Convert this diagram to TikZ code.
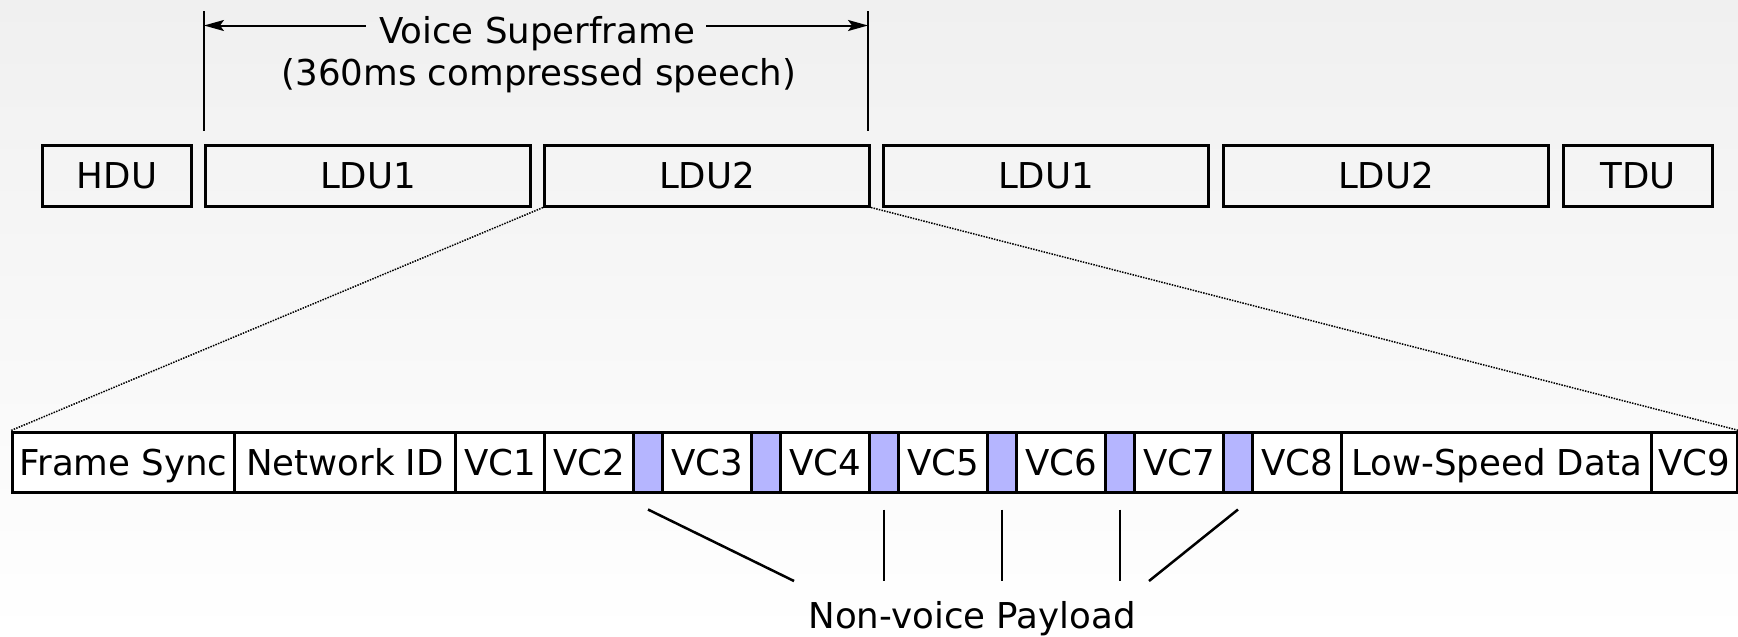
\documentclass[tikz,border=0pt]{standalone}
\usepackage{fontspec}
\setmainfont{DejaVu Sans}
\usetikzlibrary{arrows.meta}
\definecolor{nvfill}{RGB}{181,181,255}
\definecolor{bgtop}{RGB}{240,240,240}
\begin{document}
\begin{tikzpicture}[x=1pt,y=-1pt,
  lbl/.style={font=\fontsize{35.6}{42}\selectfont, text height=26pt, text depth=0pt, inner sep=0pt},
  unitbox/.style={lbl, draw, line width=3pt, minimum height=61pt, anchor=west},
  field/.style={lbl, draw, line width=3pt, fill=white, minimum height=60pt, anchor=west},
  nv/.style={field, fill=nvfill, minimum width=29pt},
  vc/.style={field, minimum width=89pt},
  zoomline/.style={line width=1.5pt, dash pattern=on 1.5pt off 1.2pt, black},
  tick/.style={line width=1.3pt},
  span/.style={line width=2pt, -{Stealth[length=20pt,width=11pt,inset=4pt]}},
  pointer/.style={line width=2.5pt}
]
% page and background
\useasboundingbox (0,0) rectangle (1738,637);
\shade[top color=bgtop, bottom color=white] (0,0) rectangle (1738,637);

% top row: data units of a voice transmission
\node[unitbox, minimum width=149pt] (hdu)  at (41,175.5)   {HDU};
\node[unitbox, minimum width=325pt] (ldua) at (204,175.5)  {LDU1};
\node[unitbox, minimum width=325pt] (ldub) at (543,175.5)  {LDU2};
\node[unitbox, minimum width=325pt] (lduc) at (882,175.5)  {LDU1};
\node[unitbox, minimum width=325pt] (ldud) at (1222,175.5) {LDU2};
\node[unitbox, minimum width=149pt] (tdu)  at (1562,175.5) {TDU};

% superframe span
\node[lbl] (vs)   at (537,30)   {Voice Superframe};
\node[lbl] (vsub) at (539,72.5) {(360ms compressed speech)};
\coordinate (tlTop) at (204,11);
\coordinate (tlBot) at (204,131);
\coordinate (trTop) at (868,11);
\coordinate (trBot) at (868,131);
\coordinate (arrL) at (204,25.5);
\coordinate (arrR) at (868,25.5);
\draw[tick] (tlTop) -- (tlBot);
\draw[tick] (trTop) -- (trBot);
\draw[span] ([xshift=-13pt]vs.west |- arrL) -- (arrL);
\draw[span] ([xshift=11pt]vs.east |- arrR) -- (arrR);

% bottom row: fields of LDU2
\node[field, minimum width=222pt] (fs)  at (11,462)   {Frame Sync};
\node[field, minimum width=221pt] (nid) at (233,462)  {Network ID};
\node[vc]  (vc1) at (454,462)  {VC1};
\node[vc]  (vc2) at (543,462)  {VC2};
\node[nv]  (nv1) at (632,462)  {};
\node[vc]  (vc3) at (661,462)  {VC3};
\node[nv]  (nv2) at (750,462)  {};
\node[vc]  (vc4) at (779,462)  {VC4};
\node[nv]  (nv3) at (868,462)  {};
\node[vc]  (vc5) at (897,462)  {VC5};
\node[nv]  (nv4) at (986,462)  {};
\node[vc]  (vc6) at (1015,462) {VC6};
\node[nv]  (nv5) at (1104,462) {};
\node[vc]  (vc7) at (1133,462) {VC7};
\node[nv]  (nv6) at (1222,462) {};
\node[vc]  (vc8) at (1251,462) {VC8};
\node[field, minimum width=310pt] (lsd) at (1340,462) {Low-Speed Data};
\node[field, minimum width=86pt]  (vc9) at (1650,462) {VC9};

% expansion lines
\draw[zoomline] (ldub.south west) -- (fs.north west);
\draw[zoomline] (ldub.south east) -- (vc9.north east);

% non-voice payload callout
\node[lbl] (nvp) at (972,615) {Non-voice Payload};
\coordinate (p1) at (794,581);
\coordinate (pbase) at (972,581);
\coordinate (p5) at (1149,581);
\draw[pointer] ([yshift=-16pt]nv1.south) -- (p1);
\draw[pointer] ([yshift=-16pt]nv3.south) -- (nv3.south |- pbase);
\draw[pointer] ([yshift=-16pt]nv4.south) -- (nv4.south |- pbase);
\draw[pointer] ([yshift=-16pt]nv5.south) -- (nv5.south |- pbase);
\draw[pointer] ([yshift=-16pt]nv6.south) -- (p5);
\end{tikzpicture}
\end{document}
